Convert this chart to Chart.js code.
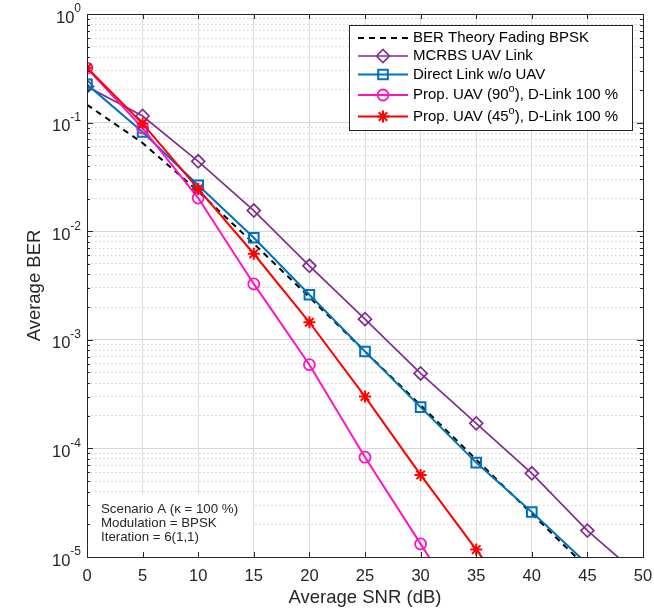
<!DOCTYPE html>
<html><head><meta charset="utf-8">
<script src="https://cdn.jsdelivr.net/npm/chart.js@4.4.0/dist/chart.umd.min.js"></script>
<style>html,body{margin:0;padding:0;background:#fff}#wrap{width:654px;height:613px;position:relative}</style>
</head><body><div id="wrap"><canvas id="c" width="654" height="613"></canvas></div>
<script>
// ---- data ----
const snrDb = [0, 5, 10, 15, 20, 25, 30, 35, 40, 45, 50];
const berTheory = [0.146, 0.065, 0.0233, 0.00768, 0.00247, 7.8e-4, 2.5e-4, 7.9e-5, 2.5e-5, 7.9e-6];
const berMcrbs  = [0.215, 0.115, 0.044, 0.0155, 0.0048, 0.00155, 4.9e-4, 1.7e-4, 5.9e-5, 1.75e-5, 6.3e-6];
const berDirect = [0.225, 0.082, 0.0265, 0.0087, 0.0026, 7.8e-4, 2.4e-4, 7.4e-5, 2.6e-5, 8.6e-6];
const berUav90  = [0.318, 0.089, 0.0202, 0.00327, 5.9e-4, 8.3e-5, 1.32e-5, 2.1e-6];
const berUav45  = [0.32, 0.098, 0.0245, 0.0062, 0.00145, 3.0e-4, 5.7e-5, 1.17e-5, 2.4e-6];
const seriesNames = [
  'BER Theory Fading BPSK',
  'MCRBS UAV Link',
  'Direct Link w/o UAV',
  'Prop. UAV (90^{o}), D-Link 100 %',
  'Prop. UAV (45^{o}), D-Link 100 %'
];
const xTickValues = [0, 5, 10, 15, 20, 25, 30, 35, 40, 45, 50];
const yTickValues = [1, 0.1, 0.01, 0.001, 0.0001, 0.00001];
const yTickLabels = ['10^{0}', '10^{-1}', '10^{-2}', '10^{-3}', '10^{-4}', '10^{-5}'];
const xTitle = 'Average SNR (dB)';
const yTitle = 'Average BER';
const noteLines = ['Scenario A (\u03BA = 100 %)', 'Modulation = BPSK', 'Iteration = 6(1,1)'];

const FONT = '"Liberation Sans", Arial, Helvetica, sans-serif';
const TXT = '#262626';

function pts(arr){ return arr.map((v,i)=>({x: snrDb[i], y: v})); }

function drawRich(ctx, str, x, y, size, align, supOff, baseOff){
  const parts = []; const re = /\^\{([^}]*)\}/g; let last = 0, m;
  while ((m = re.exec(str))) {
    if (m.index > last) parts.push({t: str.slice(last, m.index), sup: false});
    parts.push({t: m[1], sup: true}); last = re.lastIndex;
  }
  if (last < str.length) parts.push({t: str.slice(last), sup: false});
  const supSize = Math.round(size * 0.72);
  let total = 0;
  for (const p of parts) { ctx.font = (p.sup ? supSize : size) + 'px ' + FONT; p.w = ctx.measureText(p.t).width; total += p.w; }
  let cx = align === 'right' ? x - total : (align === 'center' ? x - total / 2 : x);
  ctx.textBaseline = 'middle'; ctx.textAlign = 'left';
  for (const p of parts) {
    ctx.font = (p.sup ? supSize : size) + 'px ' + FONT;
    ctx.fillText(p.t, cx, p.sup ? y + supOff : y + (baseOff||0));
    cx += p.w;
  }
}

const decorPlugin = {
  id: 'decor',
  afterDatasetsDraw(chart){
    const ctx = chart.ctx, a = chart.chartArea, xs = chart.scales.x, ys = chart.scales.y;
    ctx.save();
    // annotation white background + text
    ctx.fillStyle = '#fff';
    ctx.fillRect(a.left + 1, 495, 252 - a.left, a.bottom - 496);
    ctx.fillStyle = TXT;
    ctx.font = '13.3px ' + FONT; ctx.textBaseline = 'middle'; ctx.textAlign = 'left';
    noteLines.forEach((t, i) => ctx.fillText(t, 101, 509 + i * 14));

    // inward ticks
    ctx.strokeStyle = '#262626'; ctx.lineWidth = 1;
    ctx.beginPath();
    xTickValues.forEach(v => {
      const px = Math.round(xs.getPixelForValue(v)) + 0.5;
      ctx.moveTo(px, a.bottom); ctx.lineTo(px, a.bottom - 5);
      ctx.moveTo(px, a.top); ctx.lineTo(px, a.top + 5);
    });
    ys.ticks.forEach(t => {
      const py = Math.round(ys.getPixelForValue(t.value)) + 0.5;
      const L = t.major ? 6 : 3;
      ctx.moveTo(a.left, py); ctx.lineTo(a.left + L, py);
      ctx.moveTo(a.right, py); ctx.lineTo(a.right - L, py);
    });
    ctx.stroke();

    // box
    ctx.strokeStyle = '#262626'; ctx.lineWidth = 1;
    ctx.strokeRect(Math.round(a.left) + 0.5, Math.round(a.top) + 0.5, Math.round(a.right - a.left), Math.round(a.bottom - a.top));

    // tick labels
    ctx.fillStyle = TXT;
    xTickValues.forEach(v => {
      ctx.font = '16.5px ' + FONT; ctx.textAlign = 'center'; ctx.textBaseline = 'middle';
      ctx.fillText(String(v), xs.getPixelForValue(v), 576);
    });
    yTickValues.forEach((v, i) => {
      drawRich(ctx, yTickLabels[i], 81, ys.getPixelForValue(v), 16.5, 'right', -5, 4);
    });

    // axis titles
    ctx.font = '18.5px ' + FONT; ctx.textAlign = 'center'; ctx.textBaseline = 'middle';
    ctx.fillText(xTitle, (a.left + a.right) / 2, 598);
    ctx.save(); ctx.translate(35, (a.top + a.bottom) / 2); ctx.rotate(-Math.PI / 2);
    ctx.fillText(yTitle, 0, 0); ctx.restore();

    // legend
    const lx = 349.5, ly = 25.5, lw = 283, lh = 105;
    ctx.fillStyle = '#fff'; ctx.fillRect(lx, ly, lw, lh);
    ctx.strokeStyle = '#262626'; ctx.lineWidth = 1; ctx.strokeRect(lx, ly, lw, lh);
    const rows = [38, 56, 74.5, 95, 116.5];
    chart.data.datasets.forEach((ds, i) => {
      const y = rows[i];
      ctx.save();
      ctx.strokeStyle = ds.borderColor; ctx.lineWidth = ds.borderWidth;
      ctx.setLineDash(ds.borderDash || []);
      ctx.beginPath(); ctx.moveTo(358, y); ctx.lineTo(408, y); ctx.stroke();
      ctx.setLineDash([]);
      if (ds.pointRadius > 0) {
        ctx.strokeStyle = ds.pointBorderColor; ctx.fillStyle = 'rgba(0,0,0,0)';
        ctx.lineWidth = ds.pointBorderWidth;
        Chart.helpers.drawPoint(ctx, {pointStyle: ds.pointStyle, rotation: 0, radius: ds.pointRadius, borderWidth: ds.pointBorderWidth}, 383, y);
      }
      ctx.restore();
      ctx.fillStyle = '#000';
      drawRich(ctx, seriesNames[i], 413, y, 15, 'left', -6, 0);
    });
    ctx.restore();
  }
};

const commonLine = { showLine: true, fill: false, tension: 0, pointBackgroundColor: 'rgba(0,0,0,0)', pointHoverRadius: 0 };

const chart = new Chart(document.getElementById('c'), {
  type: 'scatter',
  data: {
    datasets: [
      Object.assign({}, commonLine, { label: seriesNames[0], data: pts(berTheory), borderColor: '#000000', borderWidth: 2, borderDash: [6, 5], pointRadius: 0, pointBorderColor: '#000', pointBorderWidth: 0, pointStyle: false, order: 5 }),
      Object.assign({}, commonLine, { label: seriesNames[1], data: pts(berMcrbs), borderColor: '#7E2F8E', borderWidth: 1.7, pointStyle: 'rectRot', pointRadius: 6.5, pointBorderColor: '#7E2F8E', pointBorderWidth: 1.7, order: 4 }),
      Object.assign({}, commonLine, { label: seriesNames[2], data: pts(berDirect), borderColor: '#0072BD', borderWidth: 2, pointStyle: 'rect', pointRadius: 6.8, pointBorderColor: '#0072BD', pointBorderWidth: 2, order: 3 }),
      Object.assign({}, commonLine, { label: seriesNames[3], data: pts(berUav90), borderColor: '#FF14C4', borderWidth: 2, pointStyle: 'circle', pointRadius: 5.5, pointBorderColor: '#FF14C4', pointBorderWidth: 1.8, order: 2 }),
      Object.assign({}, commonLine, { label: seriesNames[4], data: pts(berUav45), borderColor: '#FF0000', borderWidth: 2, pointStyle: 'star', pointRadius: 6, pointBorderColor: '#FF0000', pointBorderWidth: 2, order: 1 })
    ]
  },
  options: {
    responsive: false, animation: false, devicePixelRatio: 1,
    layout: { padding: { left: 87, right: 11, top: 14, bottom: 56 } },
    plugins: { legend: { display: false }, tooltip: { enabled: false } },
    events: [],
    scales: {
      x: {
        type: 'linear', min: 0, max: 50,
        afterBuildTicks: s => { s.ticks = xTickValues.map(v => ({ value: v })); },
        ticks: { display: false },
        grid: { color: '#dcdcdc', lineWidth: 1, drawTicks: false },
        border: { display: false }
      },
      y: {
        type: 'logarithmic', min: 1e-5, max: 1,
        afterBuildTicks: s => {
          const t = [];
          yTickValues.slice().reverse().forEach(d => {
            for (let m = 1; m <= 9; m++) {
              const v = d * m;
              if (v <= 1.0000001) t.push({ value: v, major: m === 1 });
            }
          });
          s.ticks = t;
        },
        ticks: { display: false },
        grid: {
          color: c => (c.tick && c.tick.major) ? '#d6d6d6' : '#d2d2d2',
          lineWidth: 1, drawTicks: false
        },
        border: { display: false, dash: c => (c.tick && !c.tick.major) ? [1.5, 2.5] : [] }
      }
    }
  },
  plugins: [decorPlugin]
});
</script>
</body></html>
